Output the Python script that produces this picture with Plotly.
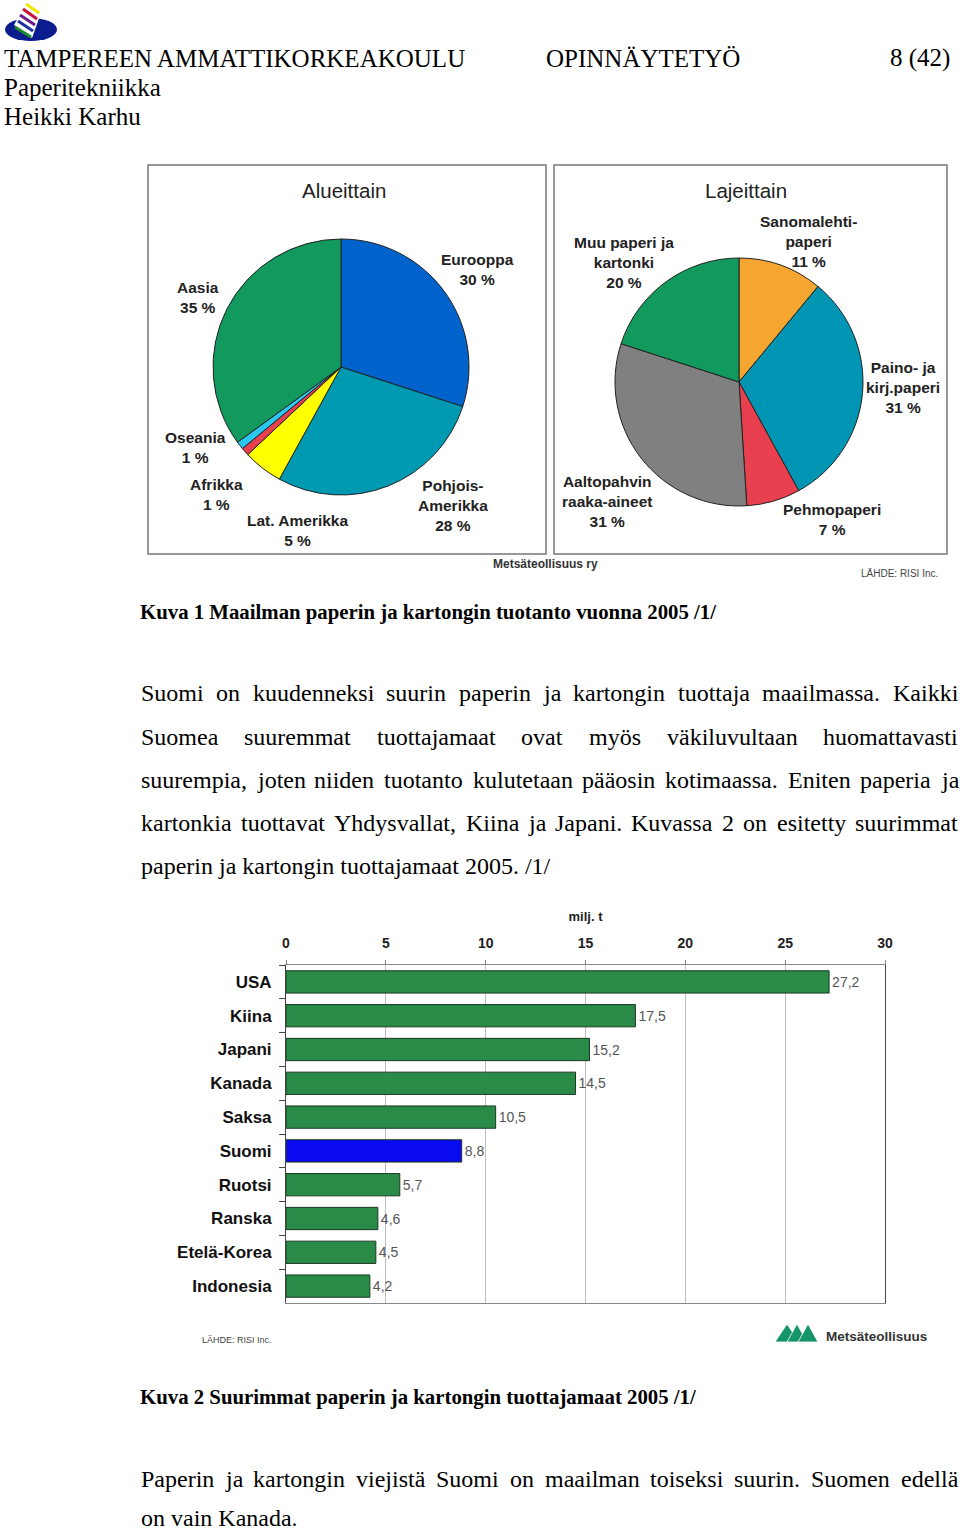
import plotly.graph_objects as go

W, H = 960, 1532
def X(px): return px / W
def Y(py): return 1 - py / H

# ---------------- data ----------------
region_names = ["Eurooppa", "Pohjois-Amerikka", "Lat. Amerikka", "Afrikka", "Oseania", "Aasia"]
region_labels = ["Eurooppa", "Pohjois-<br>Amerikka", "Lat. Amerikka", "Afrikka", "Oseania", "Aasia"]
region_share = [30, 28, 5, 1, 1, 35]
region_colors = ["#0063CC", "#0099B2", "#FFFF00", "#E8404F", "#2AC8F0", "#12995E"]

grade_names = ["Sanomalehtipaperi", "Paino- ja kirj.paperi", "Pehmopaperi", "Aaltopahvin raaka-aineet", "Muu paperi ja kartonki"]
grade_labels = ["Sanomalehti-<br>paperi", "Paino- ja<br>kirj.paperi", "Pehmopaperi", "Aaltopahvin<br>raaka-aineet", "Muu paperi ja<br>kartonki"]
grade_share = [11, 31, 7, 31, 20]
grade_colors = ["#F5A631", "#0096B3", "#E8404F", "#808080", "#12995E"]

countries = ["USA", "Kiina", "Japani", "Kanada", "Saksa", "Suomi", "Ruotsi", "Ranska", "Etelä-Korea", "Indonesia"]
production = [27.2, 17.5, 15.2, 14.5, 10.5, 8.8, 5.7, 4.6, 4.5, 4.2]
x_ticks = [0, 5, 10, 15, 20, 25, 30]

fig = go.Figure()

# ---------------- pies ----------------
fig.add_trace(go.Pie(
    labels=region_names, values=region_share, sort=False, direction="clockwise", rotation=0,
    marker=dict(colors=region_colors, line=dict(color="#222222", width=1)),
    textinfo="none", hoverinfo="label+percent", showlegend=False,
    domain=dict(x=[X(213), X(469)], y=[Y(495), Y(239)]),
))
fig.add_trace(go.Pie(
    labels=grade_names, values=grade_share, sort=False, direction="clockwise", rotation=0,
    marker=dict(colors=grade_colors, line=dict(color="#222222", width=1)),
    textinfo="none", hoverinfo="label+percent", showlegend=False,
    domain=dict(x=[X(615), X(863)], y=[Y(506), Y(258)]),
))

# ---------------- bars ----------------
bar_colors = ["#0A0AF0" if c == "Suomi" else "#2A8A48" for c in countries]
fig.add_trace(go.Bar(
    x=production, y=countries, orientation="h",
    marker=dict(color=bar_colors, line=dict(color="#1B3A22", width=1)),
    width=0.66,
    text=[f"{v:.1f}".replace(".", ",") for v in production],
    textposition="outside", cliponaxis=False,
    textfont=dict(family="Liberation Sans Narrow, Liberation Sans", size=14, color="#555555"),
    showlegend=False, xaxis="x", yaxis="y",
))

fig.update_layout(
    width=W, height=H, autosize=False, showlegend=False,
    margin=dict(l=0, r=0, t=0, b=0, pad=0, autoexpand=False),
    paper_bgcolor="white", plot_bgcolor="white",
    xaxis=dict(domain=[X(286), X(885)], range=[0, 30], side="top", tickvals=x_ticks,
               showgrid=True, gridcolor="#BDBDBD", gridwidth=1, zeroline=False,
               showline=True, linecolor="#888888", mirror=True,
               ticks="outside", ticklen=4, tickcolor="#888888", ticklabelstandoff=6,
               tickfont=dict(family="Liberation Sans", size=14, color="#222222", weight="bold"),
               title=dict(text="milj. t", standoff=10,
                          font=dict(family="Liberation Sans", size=13, color="#222222", weight="bold")),
               automargin=False, fixedrange=True),
    yaxis=dict(domain=[Y(1303), Y(965)], autorange="reversed",
               showline=True, linecolor="#444444", mirror=True,
               ticks="outside", ticklen=6, tickcolor="#444444", tickson="boundaries",
               ticklabelstandoff=10, showgrid=False,
               tickfont=dict(family="Liberation Sans", size=17, color="#111111", weight="bold"),
               automargin=False, fixedrange=True),
)

shapes = []
ann = []

def text(x, y, s, size, family="Liberation Serif", color="#000000", weight="normal", xanchor="left", align="left"):
    ann.append(dict(x=X(x), y=Y(y), xref="paper", yref="paper", text=s, showarrow=False,
                    xanchor=xanchor, yanchor="middle", align=align,
                    font=dict(family=family, size=size, color=color, weight=weight)))

# Times / Liberation Serif advance widths (per 1000 em)
TW = dict(zip("abcdefghijklmnopqrstuvwxyz",
              [444, 500, 444, 500, 444, 333, 500, 500, 278, 278, 500, 278, 778, 500, 500, 500, 500, 333, 389, 278, 500, 500, 722, 500, 500, 444]))
TW.update(dict(zip("ABCDEFGHIJKLMNOPQRSTUVWXYZ",
                   [722, 667, 667, 722, 611, 556, 722, 722, 333, 389, 722, 611, 889, 722, 722, 556, 722, 667, 556, 611, 722, 722, 944, 722, 722, 611])))
TW.update({"ä": 444, "ö": 500, ".": 250, ",": 250, "/": 278, "-": 333, " ": 250})
for d in "0123456789":
    TW[d] = 500

def word_w(w, fs):
    return sum(TW.get(ch, 500) for ch in w) * fs / 1000

def justified(line, y, fs, left=141, right=958):
    words = line.split(" ")
    total = sum(word_w(w, fs) for w in words)
    gap = (right - left - total) / (len(words) - 1)
    x = left
    for w in words:
        text(x - 2, y, w, fs)
        x += word_w(w, fs) + gap

# ---------------- header ----------------
text(2, 58, "TAMPEREEN AMMATTIKORKEAKOULU", 25)
text(544, 58, "OPINNÄYTETYÖ", 25)
text(952, 58, "8 (42)", 25, xanchor="right")
text(2, 88, "Paperitekniikka", 25)
text(2, 116, "Heikki Karhu", 25)

# logo
shapes.append(dict(type="circle", xref="paper", yref="paper", x0=X(5), x1=X(57), y0=Y(41), y1=Y(18),
                   fillcolor="#0B1C8E", line=dict(width=0)))
shapes.append(dict(type="path", xref="paper", yref="paper",
                   path=f"M {X(14)} {Y(25)} L {X(27)} {Y(2)} L {X(41)} {Y(13)} L {X(32)} {Y(38)} Z",
                   fillcolor="white", line=dict(width=0)))
for (x0, y0, x1, y1, c) in [(26, 4, 39, 13, "#F2E600"), (23, 9, 37, 19, "#C8143C"),
                            (20, 15, 35, 25, "#6A1C8C"), (18, 21, 33, 31, "#2030A8"),
                            (15, 27, 31, 37, "#1F8A2A")]:
    shapes.append(dict(type="line", xref="paper", yref="paper", x0=X(x0), y0=Y(y0), x1=X(x1), y1=Y(y1),
                       line=dict(color=c, width=3)))

# ---------------- pie boxes & labels ----------------
for (x0, x1) in [(148, 546), (554, 947)]:
    shapes.append(dict(type="rect", xref="paper", yref="paper", x0=X(x0), x1=X(x1), y0=Y(554), y1=Y(165),
                       line=dict(color="#777777", width=1.5), fillcolor="rgba(0,0,0,0)", layer="below"))

sans = "Liberation Sans"
text(344, 190, "Alueittain", 20.5, family=sans, color="#222222", xanchor="center")
text(746, 190, "Lajeittain", 20.5, family=sans, color="#222222", xanchor="center")

region_pos = [(477, 270), (453, 505), (297, 530), (216, 495), (195, 447), (198, 297)]
for lab, v, (x, y) in zip(region_labels, region_share, region_pos):
    text(x, y, f"{lab}<br>{v} %", 15.5, family=sans, color="#222222", weight="bold", xanchor="center", align="center")

grade_pos = [(808, 242), (903, 387), (832, 519), (607, 501), (624, 262)]
for lab, v, (x, y) in zip(grade_labels, grade_share, grade_pos):
    text(x, y, f"{lab}<br>{v} %", 15.5, family=sans, color="#222222", weight="bold", xanchor="center", align="center")

text(545, 564, "Metsäteollisuus ry", 12, family="Liberation Sans Narrow, Liberation Sans", color="#333333", weight="bold", xanchor="center")
text(899, 573, "LÄHDE: RISI Inc.", 10, family=sans, color="#444444", xanchor="center")

# ---------------- captions and body ----------------
text(138, 612, "Kuva 1 Maailman paperin ja kartongin tuotanto vuonna 2005 /1/", 20.8, weight="bold")

justified("Suomi on kuudenneksi suurin paperin ja kartongin tuottaja maailmassa. Kaikki", 693, 24)
justified("Suomea suuremmat tuottajamaat ovat myös väkiluvultaan huomattavasti", 737, 24)
justified("suurempia, joten niiden tuotanto kulutetaan pääosin kotimaassa. Eniten paperia ja", 780, 24)
justified("kartonkia tuottavat Yhdysvallat, Kiina ja Japani. Kuvassa 2 on esitetty suurimmat", 823, 24)
text(139, 866, "paperin ja kartongin tuottajamaat 2005. /1/", 24)

text(200, 1340, "LÄHDE: RISI Inc.", 9, family=sans, color="#444444")
# Metsäteollisuus logo
for (a, b, c) in [(775, 787, 799), (787, 797, 807), (798, 808, 818)]:
    shapes.append(dict(type="path", xref="paper", yref="paper",
                       path=f"M {X(a)} {Y(1342)} L {X(b)} {Y(1324)} L {X(c)} {Y(1342)} Z",
                       fillcolor="#17956A", line=dict(color="white", width=0.8)))
text(824, 1336, "Metsäteollisuus", 13.5, family="Liberation Sans Narrow, Liberation Sans", color="#333333", weight="bold")

text(138, 1397, "Kuva 2 Suurimmat paperin ja kartongin tuottajamaat 2005 /1/", 20.8, weight="bold")
justified("Paperin ja kartongin viejistä Suomi on maailman toiseksi suurin. Suomen edellä", 1479, 24)
text(139, 1518, "on vain Kanada.", 24)

fig.update_layout(shapes=shapes, annotations=ann)
fig.write_html("out.html", config={"displayModeBar": False, "responsive": False},
               post_script="document.body.style.margin='0px';document.body.style.overflow='hidden';")
